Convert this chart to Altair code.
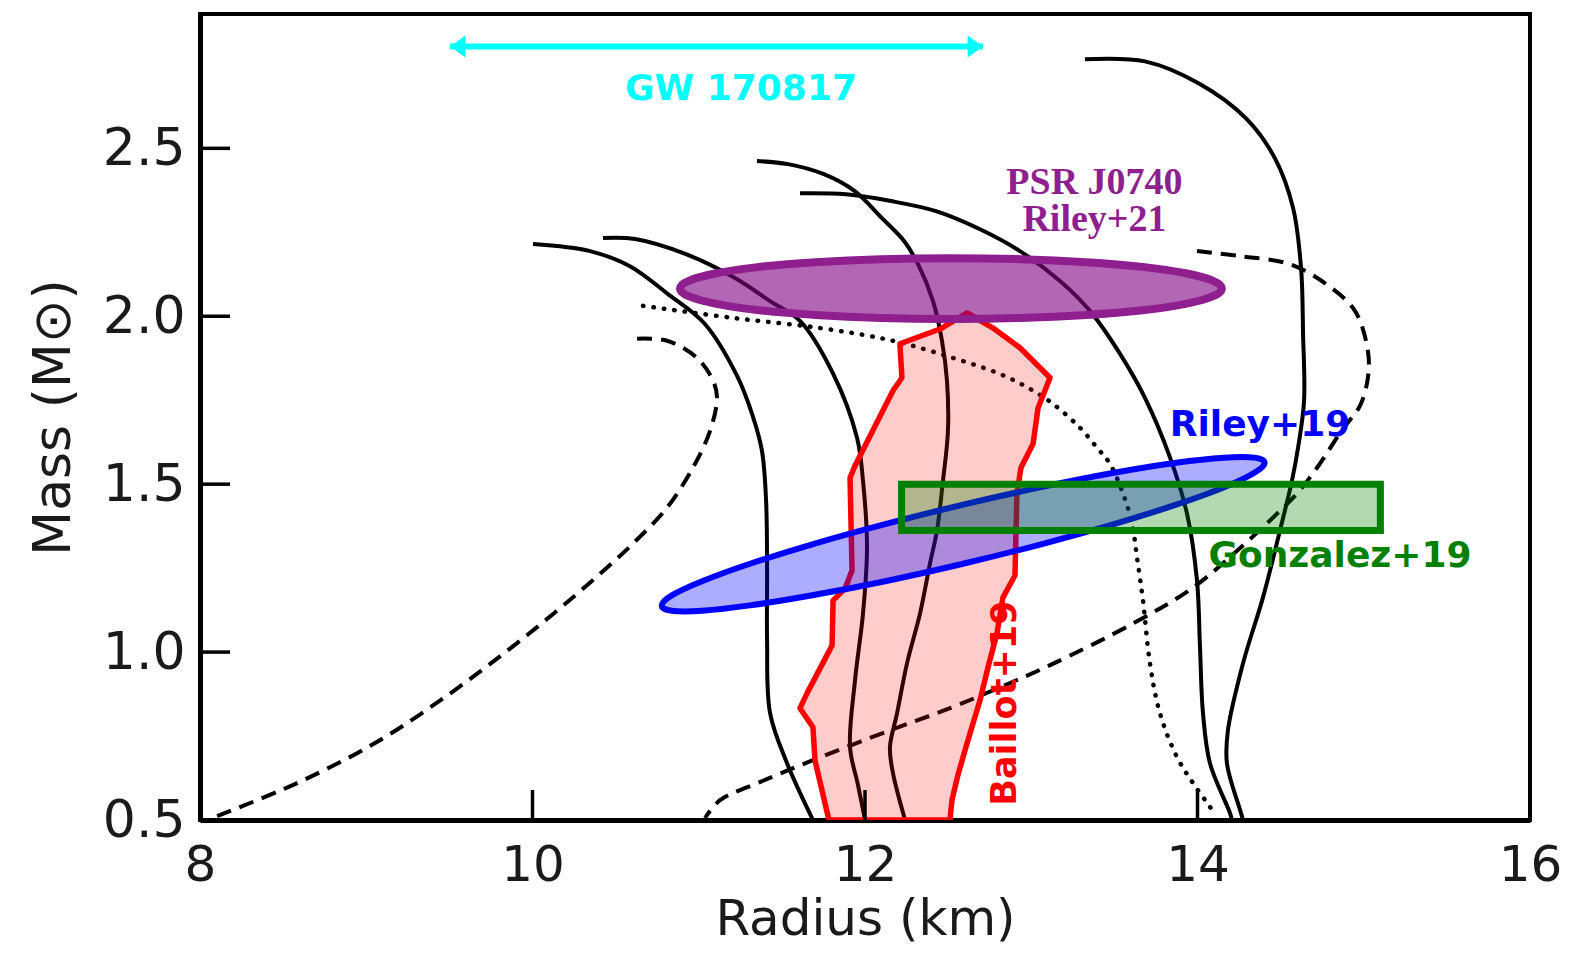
import altair as alt
import pandas as pd

# ---------------- data (Radius km, Mass Msun) ----------------
eos_a_radius = [10.003, 10.346, 10.586, 10.815, 11.037, 11.230, 11.320, 11.380, 11.405, 11.411, 11.411, 11.429, 11.531, 11.687]
eos_a_mass = [2.215, 2.194, 2.149, 2.066, 1.977, 1.823, 1.710, 1.600, 1.451, 1.243, 1.035, 0.818, 0.669, 0.500]

eos_b_radius = [10.424, 10.617, 10.923, 11.218, 11.429, 11.609, 11.808, 11.952, 11.988, 12.012, 11.988, 11.940, 11.910, 11.958, 12.000]
eos_b_mass = [2.233, 2.230, 2.185, 2.114, 2.045, 1.986, 1.829, 1.638, 1.510, 1.311, 1.115, 0.916, 0.717, 0.604, 0.500]

eos_c_radius = [11.350, 11.537, 11.753, 11.940, 12.102, 12.235, 12.319, 12.409, 12.463, 12.493, 12.499, 12.469, 12.433, 12.391, 12.331, 12.253, 12.193, 12.150, 12.168, 12.241]
eos_c_mass = [2.462, 2.453, 2.423, 2.372, 2.292, 2.224, 2.155, 2.045, 1.927, 1.808, 1.659, 1.510, 1.362, 1.264, 1.115, 0.967, 0.818, 0.717, 0.640, 0.500]

eos_d_radius = [11.609, 11.886, 12.156, 12.427, 12.692, 12.932, 13.173, 13.353, 13.534, 13.684, 13.835, 13.937, 13.997, 14.015, 14.033, 14.075, 14.195, 14.207]
eos_d_mass = [2.366, 2.363, 2.343, 2.313, 2.259, 2.194, 2.105, 2.016, 1.888, 1.757, 1.579, 1.412, 1.213, 1.014, 0.818, 0.669, 0.521, 0.500]

eos_e_radius = [13.323, 13.684, 14.009, 14.292, 14.466, 14.575, 14.623, 14.635, 14.641, 14.605, 14.568, 14.496, 14.394, 14.274, 14.183, 14.177, 14.256, 14.274]
eos_e_mass = [2.765, 2.759, 2.693, 2.589, 2.470, 2.322, 2.143, 1.947, 1.748, 1.609, 1.510, 1.362, 1.163, 0.967, 0.767, 0.669, 0.530, 0.500]

eos_f_radius = [13.997, 14.256, 14.556, 14.773, 14.947, 15.025, 15.025, 14.977, 14.875, 14.719, 14.598, 14.436, 14.238, 13.973, 13.612, 13.113, 12.812, 12.511, 12.150, 11.687, 11.368, 11.128, 11.038]
eos_f_mass = [2.194, 2.179, 2.155, 2.096, 2.016, 1.897, 1.817, 1.733, 1.665, 1.549, 1.472, 1.392, 1.302, 1.192, 1.085, 0.961, 0.895, 0.833, 0.767, 0.678, 0.613, 0.559, 0.506]

eos_g_radius = [10.629, 10.809, 10.989, 11.086, 11.110, 11.068, 10.965, 10.809, 10.604, 10.388, 10.135, 9.835, 9.474, 9.053, 8.571, 8.090]
eos_g_mass = [1.933, 1.927, 1.876, 1.808, 1.757, 1.659, 1.549, 1.430, 1.323, 1.225, 1.118, 0.999, 0.866, 0.729, 0.607, 0.509]

eos_h_radius = [10.665, 11.206, 11.729, 12.168, 12.529, 12.812, 12.992, 13.131, 13.293, 13.395, 13.473, 13.552, 13.606, 13.636, 13.672, 13.714, 13.774, 13.877, 13.973, 14.075, 14.105]
eos_h_mass = [2.031, 1.995, 1.965, 1.927, 1.876, 1.828, 1.784, 1.739, 1.668, 1.609, 1.561, 1.472, 1.383, 1.282, 1.154, 0.967, 0.818, 0.687, 0.610, 0.539, 0.515]

baillot_radius = [12.614, 12.770, 12.932, 13.113, 13.041, 13.011, 12.938, 12.914, 12.902, 12.830, 12.794, 12.740, 12.692, 12.650, 12.607, 12.559, 12.523, 12.511,
                  11.783, 11.741, 11.699, 11.687, 11.609, 11.651, 11.802, 11.808, 11.880, 11.922, 11.910, 11.940, 12.168, 12.222, 12.210, 12.451]
baillot_mass = [2.010, 1.965, 1.906, 1.817, 1.727, 1.620, 1.549, 1.472, 1.228, 1.163, 1.056, 0.955, 0.857, 0.788, 0.717, 0.634, 0.559, 0.500,
                0.500, 0.589, 0.678, 0.776, 0.833, 0.877, 1.020, 1.154, 1.189, 1.243, 1.519, 1.555, 1.778, 1.817, 1.918, 1.962]

riley19_radius = [14.404, 14.342, 14.161, 13.872, 13.497, 13.059, 12.590, 12.121, 11.683, 11.308, 11.020, 10.838,
                  10.777, 10.838, 11.020, 11.308, 11.683, 12.121, 12.590, 13.059, 13.497, 13.872, 14.161, 14.342]
riley19_mass = [1.564, 1.579, 1.579, 1.564, 1.534, 1.491, 1.439, 1.381, 1.321, 1.263, 1.211, 1.169,
                1.139, 1.123, 1.123, 1.139, 1.169, 1.211, 1.263, 1.321, 1.381, 1.439, 1.491, 1.534]

riley21_radius = [14.147, 14.091, 13.929, 13.670, 13.332, 12.939, 12.517, 12.095, 11.702, 11.364, 11.106, 10.943,
                  10.887, 10.943, 11.106, 11.364, 11.702, 12.095, 12.517, 12.939, 13.332, 13.670, 13.929, 14.091]
riley21_mass = [2.083, 2.106, 2.128, 2.147, 2.161, 2.170, 2.173, 2.170, 2.161, 2.147, 2.128, 2.106,
                2.083, 2.059, 2.037, 2.018, 2.004, 1.995, 1.992, 1.995, 2.004, 2.018, 2.037, 2.059]

gonzalez_radius = [12.22, 15.10]
gonzalez_mass = [1.362, 1.500]

gw_radius = [9.504, 12.710]
gw_mass = 2.803

label_text = ["GW 170817", "Riley+19", "Gonzalez+19"]
label_radius = [11.254, 14.376, 14.857]
label_mass = [2.676, 1.677, 1.285]
label_color = ["#00ffff", "#0000ff", "#008000"]

psr_text = "PSR J0740\nRiley+21"
psr_radius = 13.38
psr_mass = 2.396

baillot_label = "Baillot+19"
baillot_label_radius = 12.842
baillot_label_mass = 0.848

x_ticks = [8, 10, 12, 14, 16]
y_ticks = [0.5, 1.0, 1.5, 2.0, 2.5]
x_inner_ticks = [10, 12, 14]
y_inner_ticks = [1.0, 1.5, 2.0, 2.5]


def curve_frame(name, radius, mass):
    return pd.DataFrame({"curve": name, "i": list(range(len(radius))), "R": radius, "M": mass})


solid_df = pd.concat([
    curve_frame("A", eos_a_radius, eos_a_mass),
    curve_frame("B", eos_b_radius, eos_b_mass),
    curve_frame("C", eos_c_radius, eos_c_mass),
    curve_frame("D", eos_d_radius, eos_d_mass),
    curve_frame("E", eos_e_radius, eos_e_mass),
])
dashed_df = pd.concat([
    curve_frame("F", eos_f_radius, eos_f_mass),
    curve_frame("G", eos_g_radius, eos_g_mass),
])
dotted_df = curve_frame("H", eos_h_radius, eos_h_mass)
baillot_df = curve_frame("Baillot", baillot_radius, baillot_mass)
riley19_df = curve_frame("Riley19", riley19_radius, riley19_mass)
riley21_df = curve_frame("Riley21", riley21_radius, riley21_mass)
gonz_df = pd.DataFrame({"R": [gonzalez_radius[0]], "R2": [gonzalez_radius[1]],
                        "M": [gonzalez_mass[0]], "M2": [gonzalez_mass[1]]})
gw_df = pd.DataFrame({"R": [gw_radius[0]], "R2": [gw_radius[1]], "M": [gw_mass]})
gw_left = pd.DataFrame({"R": [gw_radius[0]], "M": [gw_mass]})
gw_right = pd.DataFrame({"R": [gw_radius[1]], "M": [gw_mass]})
labels_df = pd.DataFrame({"text": label_text, "R": label_radius, "M": label_mass, "color": label_color})
psr_df = pd.DataFrame({"text": [psr_text], "R": [psr_radius], "M": [psr_mass]})
baillot_lab_df = pd.DataFrame({"text": [baillot_label], "R": [baillot_label_radius], "M": [baillot_label_mass]})
xt_df = pd.DataFrame({"R": x_inner_ticks})
yt_df = pd.DataFrame({"M": y_inner_ticks})

# ---------------- encodings ----------------
FONT = "DejaVu Sans"
xscale = alt.Scale(domain=[8, 16], nice=False, zero=False)
yscale = alt.Scale(domain=[0.5, 2.9], nice=False, zero=False)
xaxis = alt.Axis(values=x_ticks, format="d", title="Radius (km)", grid=False, ticks=False,
                 labelFlush=False, labelOverlap=False, labelPadding=20, titlePadding=4,
                 labelFontSize=50, titleFontSize=50,
                 domainColor="black", domainWidth=5)
yaxis = alt.Axis(values=y_ticks, format=".1f", title="Mass (M\u2299)", grid=False, ticks=False,
                 labelFlush=False, labelOverlap=False, labelPadding=15, titlePadding=22,
                 labelFontSize=52, titleFontSize=52,
                 domainColor="black", domainWidth=5)


def X(field="R"):
    return alt.X(field, type="quantitative", scale=xscale, axis=xaxis)


def Y(field="M"):
    return alt.Y(field, type="quantitative", scale=yscale, axis=yaxis)


order = alt.Order("i:Q")

solid = alt.Chart(solid_df).mark_line(color="black", strokeWidth=4, interpolate="catmull-rom", clip=True).encode(
    x=X(), y=Y(), detail="curve:N", order=order)
dashed = alt.Chart(dashed_df).mark_line(color="black", strokeWidth=4, strokeDash=[15, 9], interpolate="catmull-rom", clip=True).encode(
    x=X(), y=Y(), detail="curve:N", order=order)
dotted = alt.Chart(dotted_df).mark_line(color="black", strokeWidth=4.5, strokeDash=[0.5, 10], strokeCap="round", interpolate="catmull-rom", clip=True).encode(
    x=X(), y=Y(), order=order)

baillot = alt.Chart(baillot_df).mark_line(stroke="#ff0000", strokeWidth=5.5, fill="#ff0000", fillOpacity=0.2,
                                          interpolate="linear-closed", strokeJoin="round", clip=True).encode(
    x=X(), y=Y(), order=order)
riley19 = alt.Chart(riley19_df).mark_line(stroke="#0000ff", strokeWidth=6, fill="#0000ff", fillOpacity=0.32,
                                          interpolate="cardinal-closed", clip=True).encode(
    x=X(), y=Y(), order=order)
gonz = alt.Chart(gonz_df).mark_rect(fill="#008000", fillOpacity=0.3, stroke="#008000", strokeWidth=7).encode(
    x=X(), x2="R2", y=Y(), y2="M2")
riley21 = alt.Chart(riley21_df).mark_line(stroke="#8f1f8f", strokeWidth=8, fill="#800080", fillOpacity=0.6,
                                          interpolate="cardinal-closed", clip=True).encode(
    x=X(), y=Y(), order=order)

gw_line = alt.Chart(gw_df).mark_rule(color="#00ffff", strokeWidth=6).encode(x=X(), x2="R2", y=Y())
gw_head_l = alt.Chart(gw_left).mark_point(shape="M 0 0 L 1.4 -1 L 1.4 1 Z", filled=True, size=484,
                                          color="#00ffff", opacity=1).encode(x=X(), y=Y())
gw_head_r = alt.Chart(gw_right).mark_point(shape="M 0 0 L -1.4 -1 L -1.4 1 Z", filled=True, size=484,
                                           color="#00ffff", opacity=1).encode(x=X(), y=Y())

labels = alt.Chart(labels_df).mark_text(font=FONT, fontSize=36, fontWeight="bold", align="center", baseline="middle").encode(
    x=X(), y=Y(), text="text:N", color=alt.Color("color:N", scale=None))
psr = alt.Chart(psr_df).mark_text(font="Liberation Serif", fontSize=38, fontWeight="bold", color="#8f1f8f",
                                  align="center", baseline="middle", lineBreak="\n", lineHeight=37).encode(
    x=X(), y=Y(), text="text:N")
baillot_lab = alt.Chart(baillot_lab_df).mark_text(font=FONT, fontSize=35, fontWeight="bold", color="#ff0000",
                                                  angle=270, align="center", baseline="middle").encode(
    x=X(), y=Y(), text="text:N")

xt = alt.Chart(xt_df).mark_rule(color="black", strokeWidth=3.5).encode(
    x=X(), y=alt.value(776), y2=alt.value(806))
yt = alt.Chart(yt_df).mark_rule(color="black", strokeWidth=3.5).encode(
    y=Y(), x=alt.value(0), x2=alt.value(30))

chart = alt.layer(
    solid, dashed, dotted, baillot, riley19, gonz, riley21,
    gw_line, gw_head_l, gw_head_r, labels, psr, baillot_lab, xt, yt
).properties(
    width=1330, height=806,
    autosize=alt.AutoSizeParams(type="none"),
    padding={"left": 192, "top": 6, "right": 31, "bottom": 128},
    background="white",
).configure_view(
    stroke="black", strokeWidth=4
).configure_axis(
    labelFont=FONT, labelColor="#1a1a1a",
    titleFont=FONT, titleFontWeight="normal", titleColor="#1a1a1a",
)

chart.save("out.html", embed_options={"renderer": "svg", "actions": False})
